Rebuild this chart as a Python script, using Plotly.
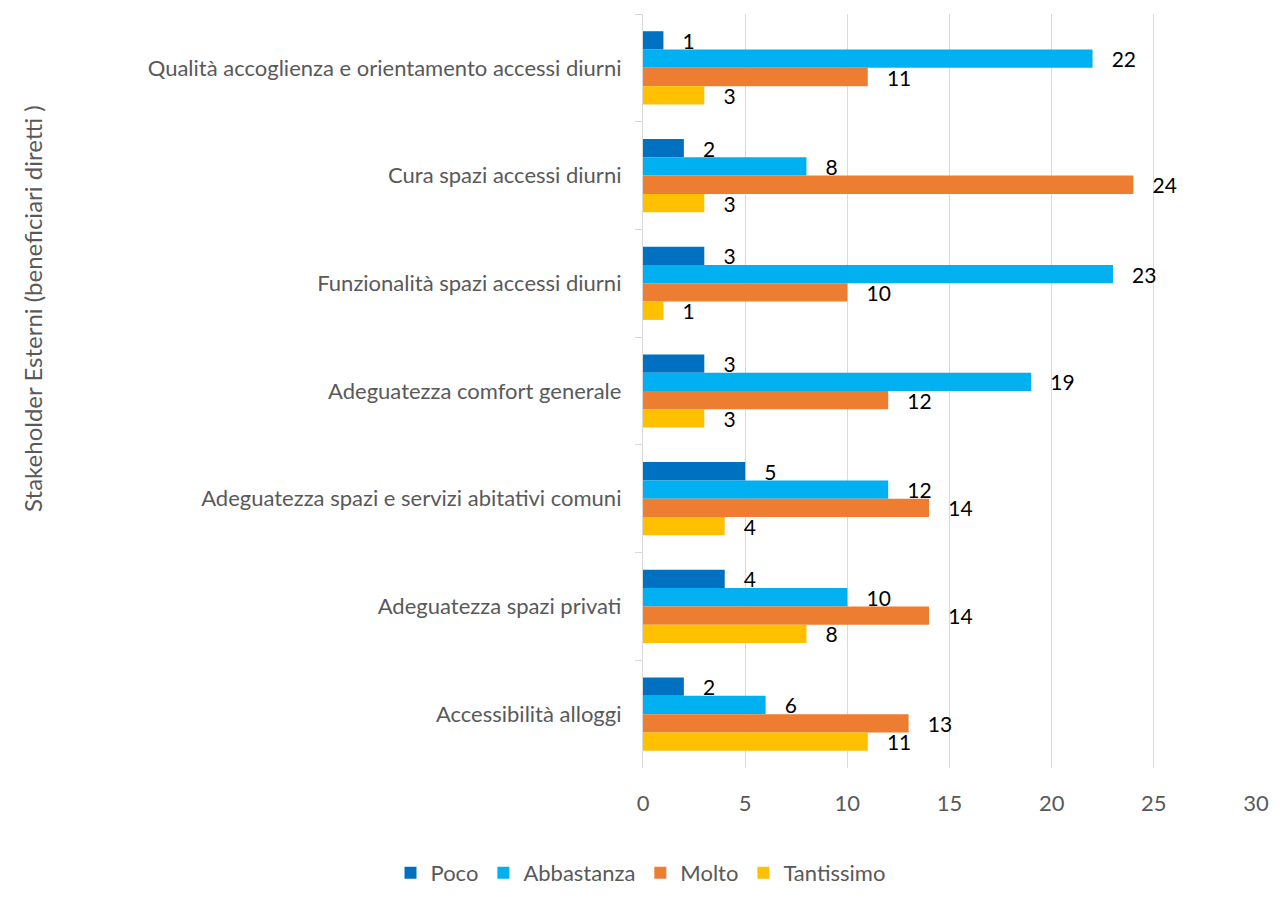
import plotly.graph_objects as go

categories = [
    "Qualità accoglienza e orientamento accessi diurni",
    "Cura spazi accessi diurni",
    "Funzionalità spazi accessi diurni",
    "Adeguatezza comfort generale",
    "Adeguatezza spazi e servizi abitativi comuni",
    "Adeguatezza spazi privati",
    "Accessibilità alloggi",
]

poco = [1, 2, 3, 3, 5, 4, 2]
abbastanza = [22, 8, 23, 19, 12, 10, 6]
molto = [11, 24, 10, 12, 14, 14, 13]
tantissimo = [3, 3, 1, 3, 4, 8, 11]

series_names = ["Poco", "Abbastanza", "Molto", "Tantissimo"]
series_values = [poco, abbastanza, molto, tantissimo]
series_colors = ["#0070C0", "#00B0F0", "#ED7D31", "#FFC000"]

FONT = "Lato"
GREY = "#595959"
LABEL_SIZE = 22

fig = go.Figure()
for name, vals, color in zip(series_names, series_values, series_colors):
    fig.add_trace(go.Bar(
        name=name,
        y=categories,
        x=vals,
        orientation="h",
        marker=dict(color=color, line=dict(width=0)),
        text=vals,
        texttemplate="   %{x}",
        textposition="outside",
        constraintext="none",
        textfont=dict(family=FONT, size=21, color="#000000"),
        cliponaxis=False,
    ))

# rotated axis title placed at the far left of the page
fig.add_annotation(
    text="Stakeholder Esterni (beneficiari diretti )",
    textangle=-90,
    xref="paper",
    yref="paper",
    x=(22 - 643) / 624,
    y=(768 - 308) / 754,
    xanchor="center",
    yanchor="middle",
    showarrow=False,
    font=dict(family=FONT, size=24, color=GREY),
)

fig.update_layout(
    width=1281,
    height=910,
    paper_bgcolor="white",
    plot_bgcolor="white",
    barmode="group",
    bargap=0.32,
    bargroupgap=0,
    margin=dict(l=643, r=14, t=14, b=142),
    font=dict(family=FONT, size=LABEL_SIZE, color=GREY),
    showlegend=True,
    legend=dict(
        orientation="h",
        xref="container",
        yref="container",
        x=0.5,
        xanchor="center",
        y=1 - 873 / 910,
        yanchor="middle",
        font=dict(family=FONT, size=LABEL_SIZE, color=GREY),
        traceorder="normal",
        itemwidth=30,
    ),
    xaxis=dict(
        range=[0, 30],
        dtick=5,
        showgrid=True,
        gridcolor="#D9D9D9",
        gridwidth=1.3,
        zeroline=False,
        showline=False,
        ticks="",
        tickfont=dict(family=FONT, size=LABEL_SIZE, color=GREY),
        ticklabelstandoff=20,
    ),
    yaxis=dict(
        autorange="reversed",
        showline=True,
        linecolor="#D9D9D9",
        linewidth=1.3,
        ticks="outside",
        tickson="boundaries",
        ticklen=7,
        tickcolor="#D9D9D9",
        tickwidth=1.3,
        showgrid=False,
        tickfont=dict(family=FONT, size=LABEL_SIZE, color=GREY),
        ticklabelstandoff=16,
    ),
)

fig.write_html("out.html")
